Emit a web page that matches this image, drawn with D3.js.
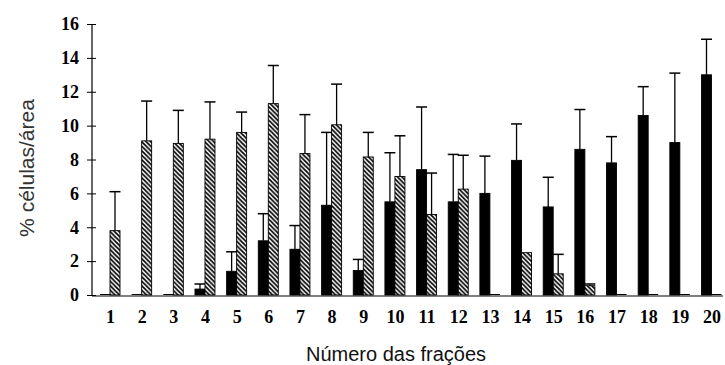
<!DOCTYPE html>
<html>
<head>
<meta charset="utf-8">
<script src="https://cdn.jsdelivr.net/npm/d3@7"></script>
<style>
  body { margin: 0; background: #fff; }
  svg { display: block; }
</style>
</head>
<body>
<svg width="725" height="365"></svg>
<script>
// fractions 1..20, black = first series, hatched = second series
var fractions = ["1","2","3","4","5","6","7","8","9","10","11","12","13","14","15","16","17","18","19","20"];
var blackVals = [0, 0, 0, 0.35, 1.4, 3.2, 2.7, 5.3, 1.45, 5.5, 7.4, 5.5, 6.0, 7.95, 5.2, 8.6, 7.8, 10.6, 9.0, 13.0];
var blackErr  = [null, null, null, 0.65, 2.55, 4.8, 4.1, 9.6, 2.1, 8.4, 11.1, 8.3, 8.2, 10.1, 6.95, 10.95, 9.35, 12.3, 13.1, 15.1];
var hatchVals = [3.8, 9.1, 8.95, 9.2, 9.6, 11.3, 8.35, 10.05, 8.15, 7.0, 4.75, 6.25, 0, 2.5, 1.25, 0.55, 0, 0, 0, 0];
var hatchErr  = [6.1, 11.45, 10.9, 11.4, 10.8, 13.55, 10.65, 12.45, 9.6, 9.4, 7.2, 8.25, null, null, 2.4, 0.65, null, null, null, null];
var yTicks = [0, 2, 4, 6, 8, 10, 12, 14, 16];

var svg = d3.select("svg");

var x = d3.scalePoint()
    .domain(fractions)
    .range([110, 711.5]);

var y = d3.scaleLinear()
    .domain([0, 16])
    .range([295, 24]);

var barW = 10;
var axisX = 92;

var defs = svg.append("defs");
var pat = defs.append("pattern")
    .attr("id", "hatch")
    .attr("patternUnits", "userSpaceOnUse")
    .attr("width", 4.5)
    .attr("height", 4.5);
pat.append("rect").attr("width", 4.5).attr("height", 4.5).attr("fill", "#fff");
pat.append("path")
    .attr("d", "M-1,-1 L5.5,5.5 M-1,3.5 L1,5.5 M3.5,-1 L5.5,1")
    .attr("stroke", "#000")
    .attr("stroke-width", 1.7);

// series rows
var series = [
  {vals: blackVals, err: blackErr, dx: -barW, fill: "#000"},
  {vals: hatchVals, err: hatchErr, dx: 0, fill: "url(#hatch)"}
];

series.forEach(function(s) {
  var rows = fractions.map(function(f, i) { return {f: f, v: s.vals[i], e: s.err[i]}; });
  var g = svg.append("g");

  // error bars (drawn first so bar covers the stem)
  var eb = g.selectAll(".err")
    .data(rows.filter(function(d) { return d.e != null; }))
    .enter().append("g");
  eb.append("line")
      .attr("x1", function(d) { return x(d.f) + s.dx + barW / 2; })
      .attr("x2", function(d) { return x(d.f) + s.dx + barW / 2; })
      .attr("y1", function(d) { return y(d.v); })
      .attr("y2", function(d) { return y(d.e); })
      .attr("stroke", "#000").attr("stroke-width", 1.3);
  eb.append("line")
      .attr("x1", function(d) { return x(d.f) + s.dx + barW / 2 - 5.5; })
      .attr("x2", function(d) { return x(d.f) + s.dx + barW / 2 + 5.5; })
      .attr("y1", function(d) { return y(d.e); })
      .attr("y2", function(d) { return y(d.e); })
      .attr("stroke", "#000").attr("stroke-width", 1.5);

  g.selectAll(".bar")
    .data(rows)
    .enter().append("rect")
      .attr("x", function(d) { return x(d.f) + s.dx; })
      .attr("y", function(d) { return Math.min(y(d.v), y(0) - 1); })
      .attr("width", barW)
      .attr("height", function(d) { return Math.max(y(0) - y(d.v), 1); })
      .attr("fill", function(d) { return d.v > 0 ? s.fill : "#000"; })
      .attr("stroke", function(d) { return d.v > 0 ? "#000" : "none"; })
      .attr("stroke-width", 0.9);
});

// y axis
var yAxis = svg.append("g")
    .attr("transform", "translate(" + axisX + ",0)")
    .call(d3.axisLeft(y).tickValues(yTicks).tickSize(5).tickPadding(8));
yAxis.select(".domain").remove();
yAxis.append("line")
    .attr("x1", 0).attr("x2", 0)
    .attr("y1", y(16)).attr("y2", y(0))
    .attr("stroke", "#000").attr("stroke-width", 1.2);
yAxis.selectAll(".tick line").attr("x1", 4).attr("x2", -5).attr("stroke", "#000");
yAxis.selectAll(".tick text")
    .attr("font-family", "'Liberation Serif', 'Times New Roman', serif")
    .attr("font-weight", "bold")
    .attr("font-size", 18)
    .attr("fill", "#000");

// x axis
var xAxis = svg.append("g")
    .attr("transform", "translate(0,296)")
    .call(d3.axisBottom(x).tickSize(0).tickPadding(14));
xAxis.select(".domain").remove();
xAxis.append("line")
    .attr("x1", axisX).attr("x2", 723)
    .attr("stroke", "#000").attr("stroke-width", 1.2);
xAxis.selectAll(".tick text")
    .attr("font-family", "'Liberation Serif', 'Times New Roman', serif")
    .attr("font-weight", "bold")
    .attr("font-size", 18)
    .attr("fill", "#000");

// titles
svg.append("text")
    .attr("x", 396)
    .attr("y", 361)
    .attr("text-anchor", "middle")
    .attr("font-family", "'Liberation Sans', Arial, sans-serif")
    .attr("font-size", 20)
    .attr("fill", "#111")
    .text("Número das frações");

svg.append("text")
    .attr("transform", "translate(34,168) rotate(-90)")
    .attr("text-anchor", "middle")
    .attr("font-family", "'Liberation Sans', Arial, sans-serif")
    .attr("font-size", 21)
    .attr("fill", "#333")
    .text("% células/área");
</script>
</body>
</html>
